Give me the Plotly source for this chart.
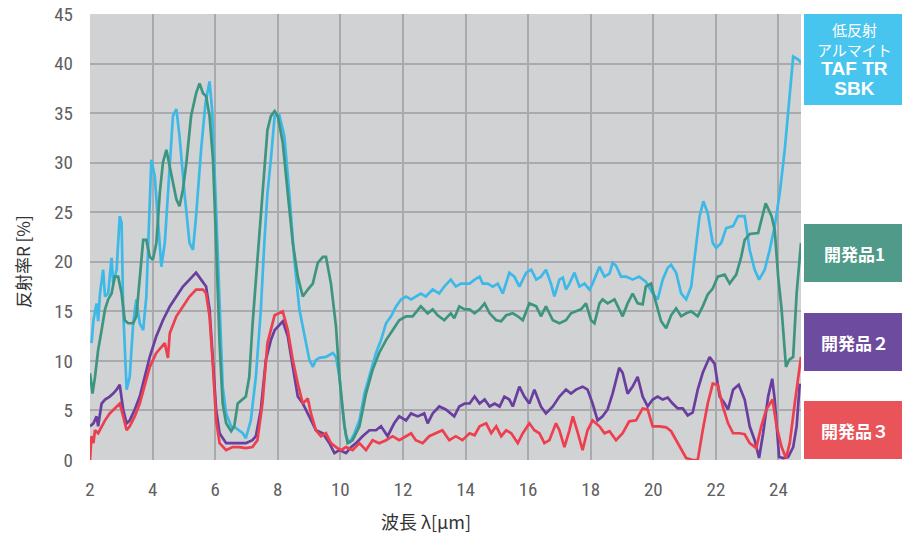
import plotly.graph_objects as go

# ---------------- data ----------------
cyan_x = [2.05, 2.11, 2.21, 2.26, 2.32, 2.42, 2.48, 2.58, 2.69, 2.74, 2.85, 2.95, 3.01, 3.06, 3.17, 3.27,
          3.38, 3.48, 3.59, 3.70, 3.80, 3.96, 4.07, 4.17, 4.28, 4.39, 4.49, 4.65, 4.76, 4.86, 5.02, 5.18,
          5.29, 5.39, 5.55, 5.69, 5.82, 5.90, 6.03, 6.14, 6.24, 6.35, 6.51, 6.67, 6.88, 6.98, 7.14, 7.30,
          7.46, 7.57, 7.67, 7.78, 7.90, 8.05, 8.21, 8.37, 8.53, 8.69, 8.85, 9.01, 9.12, 9.22, 9.33, 9.54,
          9.76, 9.86, 9.97, 10.07, 10.18, 10.29, 10.45, 10.61, 10.77, 10.93, 11.14, 11.30, 11.46, 11.62,
          11.78, 11.94, 12.10, 12.26, 12.41, 12.57, 12.73, 12.95, 13.16, 13.32, 13.53, 13.69, 13.85,
          14.13, 14.29, 14.45, 14.55, 14.71, 14.87, 15.03, 15.19, 15.40, 15.56, 15.72, 15.94, 16.10,
          16.26, 16.41, 16.57, 16.73, 16.84, 17.00, 17.11, 17.21, 17.32, 17.48, 17.64, 17.80, 17.96,
          18.06, 18.28, 18.44, 18.60, 18.70, 18.81, 18.97, 19.13, 19.34, 19.55, 19.76, 19.98, 20.14,
          20.30, 20.46, 20.57, 20.73, 20.89, 21.05, 21.21, 21.32, 21.48, 21.60, 21.74, 21.90, 22.01,
          22.17, 22.33, 22.55, 22.71, 22.92, 23.08, 23.24, 23.38, 23.56, 23.72, 23.88, 24.04, 24.20,
          24.36, 24.47, 24.63, 24.72]
cyan_y = [11.8, 14.1, 15.8, 14.0, 16.8, 19.2, 16.5, 16.8, 20.4, 17.8, 19.2, 24.6, 23.9, 15.2, 7.1, 8.4,
          13.8, 16.2, 13.8, 13.1, 16.5, 30.3, 28.6, 24.6, 19.5, 21.9, 26.6, 34.7, 35.4, 32.7, 26.9, 21.9,
          21.2, 24.6, 31.3, 36.0, 38.2, 35.4, 25.3, 15.2, 7.4, 4.7, 3.4, 3.2, 2.7, 2.2, 4.0, 8.4,
          15.2, 21.9, 26.9, 30.3, 34.7, 34.8, 32.7, 26.9, 20.2, 15.2, 12.5, 10.1, 9.4, 10.1, 10.3, 10.4,
          10.8, 10.4, 8.4, 5.1, 2.4, 1.7, 2.7, 4.0, 6.7, 8.4, 10.8, 12.1, 13.8, 14.5,
          15.5, 16.2, 16.5, 16.2, 16.5, 16.8, 16.5, 17.2, 16.8, 17.5, 18.2, 17.5, 17.8,
          17.8, 18.2, 18.5, 17.8, 17.8, 17.5, 17.8, 16.8, 18.9, 18.5, 17.5, 18.9, 19.2,
          18.2, 18.5, 19.2, 17.8, 16.5, 18.2, 18.4, 17.2, 17.8, 18.9, 17.5, 17.8, 17.2,
          17.8, 19.5, 18.5, 18.8, 19.9, 19.6, 18.5, 18.5, 18.2, 18.5, 18.0, 16.8, 16.2,
          18.2, 19.4, 19.7, 18.9, 16.8, 16.2, 17.5, 20.2, 24.6, 26.1, 24.9, 21.9, 21.4,
          21.9, 23.4, 23.6, 24.6, 24.6, 21.2, 19.2, 18.2, 19.2, 21.2, 23.6, 26.9, 31.3,
          36.7, 40.7, 40.4, 40.1]

green_x = [2.00, 2.08, 2.16, 2.26, 2.37, 2.48, 2.58, 2.69, 2.79, 2.90, 3.01, 3.11, 3.22, 3.38, 3.48, 3.59,
           3.70, 3.80, 3.91, 4.01, 4.12, 4.23, 4.33, 4.44, 4.55, 4.65, 4.76, 4.86, 4.97, 5.08, 5.23,
           5.39, 5.50, 5.61, 5.71, 5.82, 5.93, 6.03, 6.14, 6.24, 6.35, 6.51, 6.61, 6.72, 6.88, 6.98,
           7.09, 7.19, 7.35, 7.51, 7.67, 7.78, 7.90, 8.00, 8.16, 8.32, 8.48, 8.64, 8.80, 8.96, 9.12,
           9.28, 9.44, 9.54, 9.70, 9.86, 9.97, 10.13, 10.23, 10.39, 10.61, 10.82, 11.03, 11.24, 11.46,
           11.67, 11.88, 12.10, 12.31, 12.57, 12.79, 12.95, 13.11, 13.32, 13.53, 13.64, 13.80,
           13.97, 14.13, 14.29, 14.45, 14.61, 14.77, 14.98, 15.14, 15.30, 15.51, 15.67, 15.83, 16.04,
           16.26, 16.41, 16.57, 16.79, 17.00, 17.21, 17.37, 17.53, 17.69, 17.85, 18.01, 18.12, 18.28,
           18.38, 18.54, 18.76, 18.86, 19.02, 19.18, 19.34, 19.50, 19.66, 19.76, 19.93, 20.03, 20.14,
           20.25, 20.41, 20.57, 20.73, 20.89, 21.05, 21.21, 21.42, 21.58, 21.74, 21.90, 22.06, 22.28,
           22.44, 22.65, 22.81, 22.92, 23.08, 23.35, 23.59, 23.78, 23.88, 23.99, 24.10, 24.24, 24.34,
           24.47, 24.58, 24.72]
green_y = [8.75, 6.7, 8.4, 11.1, 13.1, 15.2, 16.2, 16.8, 18.5, 18.5, 16.8, 14.1, 13.8, 13.8, 14.5, 18.5,
           22.2, 22.2, 20.5, 20.2, 21.9, 26.9, 30.0, 31.3, 29.6, 27.9, 26.3, 25.6, 27.3, 30.0, 34.7,
           37.0, 38.0, 37.0, 36.7, 34.7, 30.3, 21.9, 11.8, 5.7, 3.7, 2.9, 3.4, 5.7, 6.1, 6.4,
           8.4, 13.5, 20.2, 26.6, 33.3, 34.7, 35.2, 34.7, 32.0, 26.9, 21.9, 18.5, 16.5, 17.2, 17.8,
           19.9, 20.5, 20.5, 17.8, 13.5, 8.4, 3.4, 1.7, 2.0, 3.4, 6.7, 9.1, 10.8, 12.1,
           13.1, 14.1, 14.5, 14.5, 15.5, 14.8, 15.2, 14.6, 14.1, 14.8, 14.3, 15.5,
           15.2, 15.2, 14.8, 15.2, 15.8, 14.8, 14.1, 14.0, 14.6, 14.8, 14.5, 14.1, 15.8,
           15.5, 14.5, 15.5, 14.1, 13.8, 14.1, 14.8, 15.0, 15.2, 15.8, 14.1, 13.8, 15.8,
           16.2, 15.8, 16.2, 15.5, 14.5, 15.8, 16.8, 15.8, 15.7, 17.5, 17.8, 16.5, 15.2,
           14.0, 13.3, 14.6, 15.3, 14.5, 14.8, 15.0, 14.5, 15.5, 16.7, 17.3, 18.5, 18.7,
           17.8, 18.7, 20.5, 22.2, 22.8, 22.9, 25.9, 24.6, 23.2, 18.5, 15.2, 9.4, 10.1,
           10.4, 16.8, 21.9]

purple_x = [2.00, 2.11, 2.21, 2.26, 2.37, 2.48, 2.63, 2.74, 2.85, 2.95, 3.06, 3.17, 3.27, 3.43, 3.59,
            3.75, 3.91, 4.12, 4.33, 4.55, 4.76, 4.97, 5.18, 5.39, 5.55, 5.71, 5.82, 5.93, 6.03, 6.14,
            6.35, 6.56, 6.77, 6.98, 7.19, 7.30, 7.46, 7.62, 7.78, 7.90, 8.16, 8.32, 8.48, 8.64, 8.80,
            9.01, 9.22, 9.44, 9.65, 9.81, 9.97, 10.18, 10.34, 10.50, 10.71, 10.93, 11.14, 11.30, 11.51,
            11.72, 11.88, 12.10, 12.26, 12.47, 12.68, 12.79, 12.95, 13.16, 13.37, 13.64, 13.80,
            13.97, 14.13, 14.29, 14.45, 14.61, 14.77, 14.93, 15.09, 15.24, 15.40, 15.51, 15.72, 15.88,
            16.04, 16.20, 16.41, 16.57, 16.79, 17.00, 17.21, 17.37, 17.53, 17.74, 17.90, 18.06, 18.22,
            18.38, 18.54, 18.70, 18.91, 19.02, 19.18, 19.34, 19.50, 19.66, 19.82, 19.98, 20.14, 20.30,
            20.46, 20.62, 20.78, 20.94, 21.10, 21.26, 21.42, 21.58, 21.80, 21.96, 22.12, 22.28, 22.39,
            22.55, 22.73, 22.92, 23.08, 23.24, 23.38, 23.51, 23.67, 23.80, 23.88, 24.02, 24.15, 24.31,
            24.47, 24.58, 24.68]
purple_y = [3.4, 3.7, 4.4, 3.4, 5.7, 6.1, 6.4, 6.7, 7.1, 7.6, 5.1, 3.7, 4.0, 5.1, 6.4,
            8.4, 10.4, 12.5, 14.1, 15.5, 16.5, 17.5, 18.2, 18.9, 18.2, 17.5, 15.2, 10.1, 5.1, 2.7,
            1.7, 1.7, 1.7, 1.7, 2.0, 2.4, 5.1, 10.1, 12.1, 13.1, 14.0, 12.5, 9.4, 6.4, 5.7,
            4.4, 3.0, 2.7, 1.7, 0.7, 1.0, 0.7, 1.3, 1.7, 2.4, 3.0, 3.0, 3.4, 2.4,
            3.7, 4.4, 4.0, 4.7, 4.4, 4.7, 3.7, 4.7, 5.4, 5.1, 4.4, 5.4,
            5.7, 5.7, 6.4, 5.7, 6.1, 5.4, 5.7, 5.4, 6.4, 6.1, 5.4, 7.4, 6.4,
            5.7, 7.1, 5.4, 4.7, 5.4, 6.4, 7.1, 6.7, 7.1, 7.4, 7.1, 5.7, 4.0,
            4.4, 5.1, 6.7, 9.3, 8.8, 6.7, 7.4, 8.4, 6.4, 5.4, 6.1, 6.4, 6.1,
            6.3, 5.7, 5.2, 5.2, 4.5, 4.8, 7.1, 8.8, 10.4, 9.7, 6.4, 5.7, 5.1,
            7.1, 7.6, 6.1, 3.4, 2.0, 0.2, 2.7, 6.4, 8.2, 6.1, 0.3, 0.2, 0.3,
            1.3, 3.4, 7.7]

red_x = [2.00, 2.05, 2.11, 2.16, 2.26, 2.37, 2.48, 2.63, 2.85, 2.95, 3.06, 3.17, 3.27, 3.43, 3.59,
         3.75, 3.91, 4.12, 4.39, 4.49, 4.55, 4.76, 4.97, 5.18, 5.39, 5.61, 5.71, 5.82, 5.93, 6.03,
         6.14, 6.35, 6.56, 6.77, 6.98, 7.19, 7.35, 7.51, 7.67, 7.83, 7.90, 8.16, 8.32, 8.48, 8.64,
         8.80, 8.96, 9.06, 9.22, 9.38, 9.54, 9.70, 9.86, 10.02, 10.18, 10.39, 10.61, 10.82, 11.03,
         11.24, 11.46, 11.67, 11.88, 12.10, 12.26, 12.41, 12.63, 12.84, 13.05, 13.26, 13.48, 13.69,
         13.90, 14.13, 14.29, 14.45, 14.66, 14.82, 14.98, 15.14, 15.30, 15.46, 15.67, 15.83, 16.04,
         16.20, 16.36, 16.52, 16.68, 16.89, 17.00, 17.16, 17.32, 17.43, 17.59, 17.74, 17.90, 18.06,
         18.28, 18.44, 18.60, 18.81, 19.02, 19.23, 19.45, 19.66, 19.82, 19.98, 20.19, 20.41, 20.57,
         20.73, 20.89, 21.05, 21.26, 21.42, 21.58, 21.74, 21.90, 22.06, 22.22, 22.39, 22.55, 22.76,
         22.92, 23.08, 23.29, 23.45, 23.61, 23.81, 23.94, 24.10, 24.24, 24.36, 24.52, 24.72]
red_y = [0.0, 2.4, 1.7, 3.0, 2.7, 3.4, 4.0, 4.7, 5.4, 5.7, 4.4, 3.0, 3.4, 4.4, 5.7,
         7.7, 9.4, 10.8, 11.8, 10.3, 12.8, 14.5, 15.5, 16.5, 17.2, 17.2, 16.8, 14.5, 9.4, 4.0,
         1.7, 1.0, 1.3, 1.3, 1.2, 1.3, 2.0, 5.7, 11.8, 13.8, 14.6, 15.0, 13.1, 10.1, 7.7,
         5.7, 6.2, 4.7, 3.0, 2.4, 2.7, 1.7, 1.3, 1.0, 1.3, 1.0, 1.7, 1.0, 2.0,
         1.7, 2.0, 2.4, 2.0, 2.4, 2.7, 2.0, 1.7, 2.4, 2.7, 3.0, 2.0, 2.4,
         2.0, 2.7, 2.5, 3.4, 3.7, 2.7, 3.4, 2.4, 3.0, 2.7, 1.7, 2.7, 3.7,
         3.0, 2.7, 1.7, 2.0, 3.7, 3.0, 1.3, 3.0, 4.4, 2.7, 1.0, 3.0, 4.0,
         3.4, 2.7, 2.9, 2.0, 2.7, 3.9, 4.0, 5.2, 5.1, 3.4, 3.4, 3.3, 2.9,
         2.0, 1.0, 0.2, 0.0, 0.0, 3.0, 5.7, 7.7, 7.6, 5.4, 3.7, 2.7, 2.7,
         2.6, 1.7, 1.2, 3.4, 5.1, 6.1, 3.4, 1.3, 0.2, 1.7, 5.7, 10.4]

series_names = ["低反射アルマイト TAF TR SBK", "開発品1", "開発品２", "開発品３"]
line_colors = ["#3db9e8", "#3d9580", "#6a3e9e", "#ee3f4f"]
box_colors = ["#48c5ee", "#4f9a89", "#6d4b9e", "#e9545a"]
x_ticks = [2, 4, 6, 8, 10, 12, 14, 16, 18, 20, 22, 24]
y_ticks = [0, 5, 10, 15, 20, 25, 30, 35, 40, 45]

# ---------------- figure ----------------
# the page adds an 8px body margin, so the figure is sized to fit the window
W, H = 902, 527
L, R, T, B = 82, 109, 6, 75
PW, PH = W - L - R, H - T - B


def px_to_paper_x(px):
    return (px - 8 - L) / PW


def py_to_paper_y(py):
    return (H - B - (py - 8)) / PH


fig = go.Figure()
for xs, ys, name, col in zip([cyan_x, green_x, purple_x, red_x],
                             [cyan_y, green_y, purple_y, red_y],
                             series_names, line_colors):
    fig.add_trace(go.Scatter(x=xs, y=ys, mode="lines", name=name,
                             line=dict(color=col, width=2.7), showlegend=False))

tick_font = dict(family="Liberation Sans Narrow, Roboto Condensed, Roboto, sans-serif",
                 size=19, color="#606060")

fig.update_layout(
    width=W, height=H,
    margin=dict(l=L, r=R, t=T, b=B),
    paper_bgcolor="white",
    plot_bgcolor="#d1d2d4",
    xaxis=dict(range=[2, 24.72], tickvals=x_ticks, ticktext=[str(v) for v in x_ticks],
               showgrid=True, gridcolor="#a9aaad", gridwidth=1.5, zeroline=False,
               showline=False, ticks="", ticklabelstandoff=16, tickfont=tick_font,
               automargin=False, ticklabeloverflow="allow"),
    yaxis=dict(range=[0, 45], tickvals=y_ticks, ticktext=[str(v) for v in y_ticks],
               showgrid=True, gridcolor="#a9aaad", gridwidth=1.5, zeroline=False,
               showline=False, ticks="", ticklabelstandoff=16, tickfont=tick_font,
               automargin=False, ticklabeloverflow="allow"),
)

# axis titles
fig.add_annotation(text="波長 λ[μm]", xref="paper", yref="paper", x=px_to_paper_x(426),
                   y=py_to_paper_y(521), xanchor="center", yanchor="middle", showarrow=False,
                   font=dict(family="Noto Sans CJK JP", size=18, color="#333333"))
fig.add_annotation(text="反射率R [%]", xref="paper", yref="paper", x=px_to_paper_x(22),
                   y=py_to_paper_y(262), xanchor="center", yanchor="middle", showarrow=False,
                   textangle=-90,
                   font=dict(family="Noto Sans CJK JP", size=17, color="#333333"))

# legend boxes on the right
bx0, bx1 = px_to_paper_x(804), px_to_paper_x(905)
boxes = [(14, 105), (224, 282), (313, 371), (401, 459)]
for (t, b), col in zip(boxes, box_colors):
    fig.add_shape(type="rect", xref="paper", yref="paper", x0=bx0, x1=bx1,
                  y0=py_to_paper_y(b), y1=py_to_paper_y(t), fillcolor=col, line_width=0,
                  layer="above")

bxc = (bx0 + bx1) / 2
big = "<span style='font-family:Liberation Sans, Arial, sans-serif;font-size:19px;font-weight:bold'>"
box1_text = ("低反射<br>アルマイト<br>" + big + "TAF TR</span><br>" + big + "SBK</span>")
fig.add_annotation(text=box1_text, xref="paper", yref="paper", x=bxc, y=py_to_paper_y(58.5),
                   xanchor="center", yanchor="middle", showarrow=False,
                   font=dict(family="Noto Sans CJK JP", size=15, color="white"))
for (t, b), label in zip(boxes[1:], series_names[1:]):
    fig.add_annotation(text="<b>" + label + "</b>", xref="paper", yref="paper", x=bxc,
                       y=py_to_paper_y((t + b) / 2), xanchor="center", yanchor="middle",
                       showarrow=False,
                       font=dict(family="Noto Sans CJK JP", size=17, color="white"))

fig.write_html("out.html")
